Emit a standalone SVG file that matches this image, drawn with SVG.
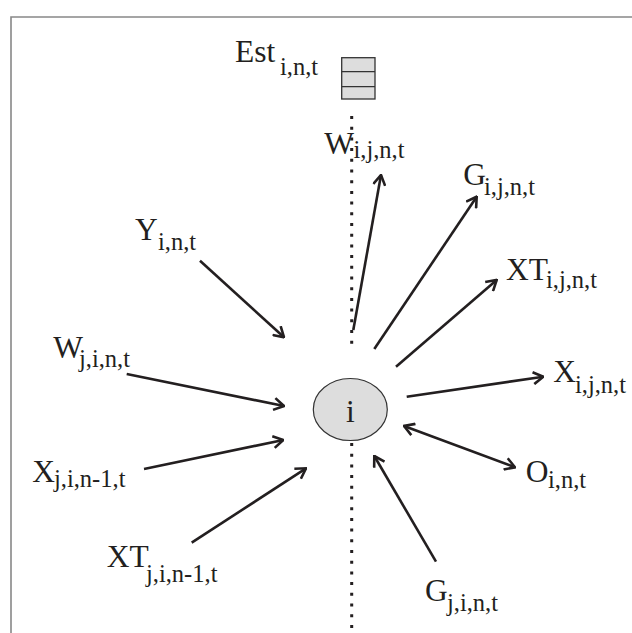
<svg xmlns="http://www.w3.org/2000/svg" width="632" height="633" viewBox="0 0 632 633">
<style>
text{font-family:"Liberation Serif","Times New Roman",serif;fill:#231f20}
.m{font-size:31.5px}
.s{font-size:24.5px}
.a{stroke:#231f20;stroke-width:2.6;fill:none;marker-end:url(#ah)}
.dot{stroke:#231f20;stroke-width:3;stroke-dasharray:3 7.7;fill:none}
</style>
<defs>
<marker id="ah" viewBox="0 0 12 14" refX="11" refY="7" markerWidth="12" markerHeight="14" markerUnits="userSpaceOnUse" orient="auto-start-reverse">
<path d="M1,1 L11,7 L1,13" fill="none" stroke="#231f20" stroke-width="2.6"/>
</marker>
</defs>
<rect width="632" height="633" fill="#fff"/>
<path d="M11,633 V17 H632" fill="none" stroke="#888" stroke-width="1.6"/>
<g id="dotted">
<line class="dot" x1="351.7" y1="116" x2="351.7" y2="345"/>
<line class="dot" x1="351.7" y1="443" x2="351.7" y2="628"/>
</g>
<g id="est">
<rect x="341.7" y="57.7" width="33.3" height="41.3" fill="#ddd" stroke="#333" stroke-width="1.3"/>
<line x1="341.7" y1="71.7" x2="375" y2="71.7" stroke="#333" stroke-width="1.3"/>
<line x1="341.7" y1="86.7" x2="375" y2="86.7" stroke="#333" stroke-width="1.3"/>
<text class="m" x="235" y="62">Est</text><text class="s" x="280" y="75">i,n,t</text>
</g>
<g id="node-i">
<ellipse cx="350.3" cy="409.5" rx="37" ry="31" fill="#ddd" stroke="#333" stroke-width="1.2"/>
<text class="m" x="350.3" y="421.5" text-anchor="middle">i</text>
</g>
<g id="connectors">
<line class="a" x1="353.3" y1="330" x2="381" y2="175"/>
<line class="a" x1="374.3" y1="349" x2="476.7" y2="196.7"/>
<line class="a" x1="396" y1="366.7" x2="496.7" y2="280"/>
<line class="a" x1="406.7" y1="396.7" x2="543.3" y2="376.7"/>
<line class="a" x1="404" y1="426" x2="515" y2="467.3" marker-start="url(#ah)"/>
<line class="a" x1="436" y1="561.7" x2="374.3" y2="456"/>
<line class="a" x1="191.7" y1="542.7" x2="306" y2="468.3"/>
<line class="a" x1="144" y1="469" x2="283.3" y2="440"/>
<line class="a" x1="126.7" y1="374" x2="284" y2="406"/>
<line class="a" x1="200" y1="260.7" x2="284" y2="337.3"/>
</g>
<g id="W-ij"><text class="m" x="324.3" y="154">W</text><text class="s" x="353.5" y="158">i,j,n,t</text></g>
<g id="G-ij"><text class="m" x="463.3" y="185">G</text><text class="s" x="484" y="195">i,j,n,t</text></g>
<g id="XT-ij"><text class="m" x="506" y="280">XT</text><text class="s" x="546" y="288">i,j,n,t</text></g>
<g id="X-ij"><text class="m" x="553.3" y="381.7">X</text><text class="s" x="575" y="393">i,j,n,t</text></g>
<g id="O"><text class="m" x="525.7" y="481.7">O</text><text class="s" x="548" y="488">i,n,t</text></g>
<g id="G-ji"><text class="m" x="425" y="600.6">G</text><text class="s" x="447" y="611">j,i,n,t</text></g>
<g id="XT-ji"><text class="m" x="106.7" y="566.7">XT</text><text class="s" x="146" y="582">j,i,n-1,t</text></g>
<g id="X-ji"><text class="m" x="32.3" y="481.7">X</text><text class="s" x="54" y="487">j,i,n-1,t</text></g>
<g id="W-ji"><text class="m" x="53.3" y="358.3">W</text><text class="s" x="79" y="366.7">j,i,n,t</text></g>
<g id="Y"><text class="m" x="135" y="240">Y</text><text class="s" x="158" y="250">i,n,t</text></g>
</svg>
